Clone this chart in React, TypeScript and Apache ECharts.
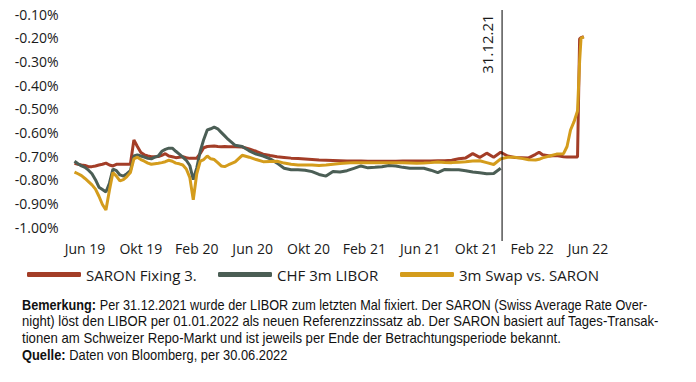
import React, { useEffect, useRef } from "react";
import * as echarts from "echarts";

// x position: months relative to the "Jun 19" axis label
const monthIndex = [
  -0.75, -0.5, -0.25, 0, 0.25, 0.5, 0.75, 1.0, 1.25, 1.5, 1.75, 2.0, 2.25, 2.5, 2.75, 3.0,
  3.25, 3.5, 3.75, 4.0, 4.25, 4.5, 4.75, 5.0, 5.25, 5.5, 5.75, 6.0, 6.25, 6.5, 6.75, 7.0,
  7.25, 7.5, 7.75, 8.0, 8.25, 8.5, 8.75, 9.0, 9.25, 9.5, 9.75, 10.0, 10.25,
  10.75, 11.25, 11.75, 12.25, 12.75, 13.25, 13.75, 14.25, 14.75, 15.25, 15.75, 16.25,
  16.75, 17.25, 17.75, 18.25, 18.75, 19.25, 19.75, 20.25, 20.75, 21.25, 21.75, 22.25,
  22.75, 23.25, 23.75, 24.25, 24.75, 25.25, 25.75, 26.25, 26.75, 27.25, 27.75, 28.25,
  28.75, 29.25, 29.75, 30.25, 30.75, 31.25, 31.75, 32.25, 32.5, 32.75, 33.25, 33.75,
  34.25, 34.5, 34.75, 35.0, 35.25, 35.4, 35.5, 35.7,
];

const saronFixing = [
  -0.731, -0.735, -0.738, -0.740, -0.745, -0.745, -0.742, -0.738, -0.735, -0.730, -0.738, -0.742, -0.735, -0.735, -0.735, -0.735,
  -0.735, -0.632, -0.660, -0.685, -0.695, -0.700, -0.703, -0.703, -0.702, -0.697, -0.690, -0.700, -0.703, -0.707, -0.705, -0.703,
  -0.707, -0.710, -0.710, -0.709, -0.689, -0.665, -0.660, -0.659, -0.658, -0.660, -0.661, -0.660, -0.661,
  -0.661, -0.662, -0.670, -0.680, -0.692, -0.698, -0.703, -0.706, -0.709, -0.711, -0.713, -0.715,
  -0.717, -0.718, -0.719, -0.720, -0.721, -0.721, -0.721, -0.722, -0.722, -0.722, -0.722, -0.722,
  -0.721, -0.721, -0.721, -0.721, -0.721, -0.720, -0.720, -0.718, -0.712, -0.708, -0.690, -0.706,
  -0.688, -0.705, -0.684, -0.700, -0.706, -0.707, -0.708, -0.693, -0.684, -0.695, -0.700, -0.698,
  -0.703, -0.704, -0.704, -0.704, -0.704, -0.205, -0.200, -0.196,
];

const chfLibor = [
  -0.722, -0.733, -0.742, -0.748, -0.760, -0.775, -0.800, -0.832, -0.842, -0.852, -0.815, -0.755, -0.762, -0.780, -0.785, -0.775,
  -0.762, -0.700, -0.695, -0.700, -0.705, -0.710, -0.712, -0.705, -0.700, -0.680, -0.672, -0.667, -0.667, -0.680, -0.692, -0.705,
  -0.718, -0.740, -0.800, -0.750, -0.680, -0.630, -0.590, -0.585, -0.578, -0.585, -0.600, -0.615, -0.630,
  -0.655, -0.660, -0.678, -0.692, -0.700, -0.712, -0.730, -0.752, -0.758, -0.758, -0.760, -0.766,
  -0.778, -0.785, -0.765, -0.768, -0.762, -0.752, -0.742, -0.750, -0.748, -0.745, -0.740, -0.742,
  -0.748, -0.752, -0.752, -0.752, -0.760, -0.770, -0.757, -0.758, -0.758, -0.762, -0.768, -0.771,
  -0.775, -0.774, -0.752, null, null, null, null, null, null, null, null, null,
  null, null, null, null, null, null, null, null,
];

const swapVsSaron = [
  -0.768, -0.775, -0.783, -0.795, -0.808, -0.822, -0.840, -0.870, -0.905, -0.928, -0.845, -0.770, -0.785, -0.805, -0.800, -0.787,
  -0.770, -0.712, -0.705, -0.715, -0.722, -0.730, -0.735, -0.733, -0.731, -0.728, -0.724, -0.718, -0.722, -0.730, -0.733, -0.738,
  -0.755, -0.790, -0.885, -0.775, -0.722, -0.715, -0.700, -0.712, -0.715, -0.728, -0.742, -0.745, -0.738,
  -0.725, -0.697, -0.705, -0.715, -0.724, -0.723, -0.722, -0.730, -0.735, -0.738, -0.738, -0.738,
  -0.740, -0.738, -0.735, -0.732, -0.730, -0.728, -0.728, -0.729, -0.728, -0.728, -0.728, -0.729,
  -0.729, -0.730, -0.731, -0.730, -0.728, -0.725, -0.727, -0.728, -0.726, -0.724, -0.721, -0.720,
  -0.728, -0.736, -0.712, -0.705, -0.705, -0.710, -0.716, -0.717, -0.714, -0.708, -0.700, -0.692,
  -0.690, -0.660, -0.590, -0.555, -0.510, -0.300, -0.203, -0.196,
];

const tickMonths = [0, 4, 8, 12, 16, 20, 24, 28, 32, 36];
const tickLabels = ["Jun 19", "Okt 19", "Feb 20", "Jun 20", "Okt 20", "Feb 21", "Jun 21", "Okt 21", "Feb 22", "Jun 22"];
const liborEndMonth = 29.85;
const liborEndLabel = "31.12.21";

const seriesNames = ["SARON Fixing 3.", "CHF 3m LIBOR", "3m Swap vs. SARON"];
const seriesColors = ["#a33d27", "#4b5e55", "#d49c1c"];
const legendLefts = [22, 213, 395];

const noteLines = [
  "{b|Bemerkung:} Per 31.12.2021 wurde der LIBOR zum letzten Mal fixiert. Der SARON (Swiss Average Rate Over-",
  "night) löst den LIBOR per 01.01.2022 als neuen Referenzzinssatz ab. Der SARON basiert auf Tages-Transak-",
  "tionen am Schweizer Repo-Markt und ist jeweils per Ende der Betrachtungsperiode bekannt.",
  "{b|Quelle:} Daten von Bloomberg, per 30.06.2022",
];
const noteScales = [0.908, 0.935, 0.94, 0.92];

const FONT = "'Open Sans', 'Noto Sans', sans-serif";
const NOTE_FONT = "'Liberation Sans', Arial, sans-serif";

export default function App() {
  const ref = useRef<HTMLDivElement>(null);

  useEffect(() => {
    if (!ref.current) return;
    const chart = echarts.init(ref.current, undefined, { renderer: "svg" });
    const allSeries = [saronFixing, chfLibor, swapVsSaron];
    chart.setOption({
      animation: false,
      backgroundColor: "#ffffff",
      grid: { left: 74.5, top: 14, width: 513.5, height: 213, outerBoundsMode: "none" },
      legend: seriesNames.map((name, k) => ({
        data: [name],
        left: legendLefts[k],
        top: 262,
        icon: "roundRect",
        itemWidth: 54,
        itemHeight: 5,
        textStyle: { fontSize: 15, color: "#1a1a1a", fontFamily: FONT },
      })),
      xAxis: {
        type: "value",
        min: -0.75,
        max: 36,
        axisLine: { show: false },
        axisTick: { show: false },
        splitLine: { show: false },
        axisLabel: {
          customValues: tickMonths,
          formatter: (v: number) => tickLabels[tickMonths.indexOf(Math.round(v))] ?? "",
          fontSize: 14,
          color: "#1a1a1a",
          fontFamily: FONT,
          margin: 14,
        },
      },
      yAxis: {
        type: "value",
        min: -1,
        max: -0.1,
        interval: 0.1,
        axisLine: { show: false },
        axisTick: { show: false },
        splitLine: { show: false },
        axisLabel: {
          formatter: (v: number) => v.toFixed(2) + "%",
          fontSize: 14,
          color: "#1a1a1a",
          fontFamily: FONT,
          margin: 16,
        },
      },
      series: seriesNames.map((name, k) => ({
        name,
        type: "line",
        showSymbol: false,
        connectNulls: false,
        data: monthIndex.map((m, i) => [m, allSeries[k][i]]),
        lineStyle: { width: 3, color: seriesColors[k] },
        itemStyle: { color: seriesColors[k] },
        z: 2 + k,
      })),
    });

    const lx = chart.convertToPixel({ xAxisIndex: 0 }, liborEndMonth) as number;
    chart.setOption({
      graphic: [
        {
          type: "line",
          shape: { x1: lx, y1: 10, x2: lx, y2: 241 },
          style: { stroke: "#000000", lineWidth: 1 },
          z: 10,
        },
        {
          type: "text",
          x: lx - 15,
          y: 44,
          rotation: Math.PI / 2,
          style: {
            text: liborEndLabel,
            fontSize: 15,
            fontFamily: FONT,
            fill: "#1a1a1a",
            align: "center",
            verticalAlign: "middle",
          },
          z: 10,
        },
        ...noteLines.map((line, i) => ({
          type: "text",
          x: 22,
          y: 305 + i * 16.8,
          scaleX: noteScales[i],
          style: {
            text: line,
            fontSize: 14,
            fontFamily: NOTE_FONT,
            fill: "#111111",
            verticalAlign: "middle",
            rich: {
              b: { fontSize: 14, fontFamily: NOTE_FONT, fontWeight: "bold", fill: "#111111" },
            },
          },
        })),
      ],
    });

    return () => chart.dispose();
  }, []);

  return (
    <div
      ref={ref}
      style={{ position: "absolute", left: 0, top: 0, width: 696, height: 382, background: "#fff" }}
    />
  );
}
